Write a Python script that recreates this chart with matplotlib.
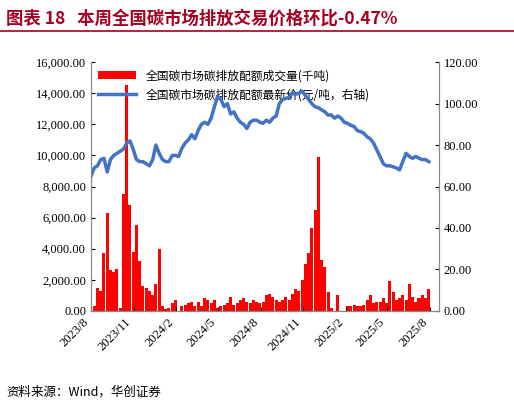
import pandas as pd
import matplotlib.pyplot as plt
import matplotlib.dates as mdates
from matplotlib.ticker import FuncFormatter

plt.rcParams['font.family'] = ['Liberation Serif', 'Noto Sans CJK SC']

# weekly volume (thousand tons) and weekly price (yuan/ton), from 2023-08-01
volume = [300, 300, 1500, 1300, 3700, 6300, 2600, 2500, 2700, 200,
          7500, 14500, 6800, 3800, 5500, 3200, 1600, 1500, 1300, 1000,
          1700, 4000, 300, 100, 200, 500, 700, 0, 300, 400,
          500, 600, 300, 600, 300, 800, 700, 500, 700, 200,
          300, 400, 500, 900, 400, 500, 700, 800, 600, 500,
          700, 600, 500, 600, 1000, 1100, 900, 700, 600, 700,
          900, 700, 1100, 1400, 1300, 2000, 3000, 3700, 5300, 6500,
          9900, 3300, 2800, 1200, 200, 0, 1000, 0, 0, 300,
          300, 400, 300, 300, 400, 700, 1000, 500, 600, 600,
          800, 500, 1900, 1200, 700, 800, 1000, 700, 1700, 900,
          600, 800, 1000, 800, 1400]
price = [65, 69, 70, 73, 73.6, 67, 73, 75, 76, 77,
         78, 81, 82, 78, 73, 72, 72, 71, 70, 73,
         80, 76, 73, 72, 72, 75, 75, 74.5, 78.5, 81,
         82.5, 85, 83, 87, 90, 91, 90, 93, 98.5, 103.5,
         102, 98.5, 100, 95, 96, 93, 91, 90, 88, 91,
         92, 92, 91, 90.5, 92, 91, 93, 94, 100, 102,
         102.5, 103, 105, 104.5, 105, 106, 104, 102, 100, 98.5,
         98, 97, 96, 94.5, 94.5, 93, 94, 93, 91, 90.5,
         89.5, 89, 87, 86.5, 85.7, 84, 83, 81, 77.7, 74.5,
         71, 70, 70, 69.5, 69, 68, 72, 76, 74.5, 73.6,
         74.5, 73.6, 73, 73, 72]
dates = pd.date_range('2023-08-01', periods=len(volume), freq='7D')

fig = plt.figure(figsize=(5.14, 4.09), dpi=100)
ax = fig.add_axes([0.177, 0.24, 0.677, 0.608])
ax2 = ax.twinx()

ax.bar(dates, volume, width=6.5, color='#FF0000', label='全国碳市场碳排放配额成交量(千吨)')
ax2.plot(dates, price, color='#4472C4', lw=2.5, label='全国碳市场碳排放配额最新价(元/吨，右轴)')

ax.set_ylim(0, 16000)
ax.set_yticks(range(0, 16001, 2000))
ax.yaxis.set_major_formatter(FuncFormatter(lambda v, p: f'{v:,.2f}'))
ax2.set_ylim(0, 120)
ax2.set_yticks(range(0, 121, 20))
ax2.yaxis.set_major_formatter(FuncFormatter(lambda v, p: f'{v:.2f}'))
ax.set_xlim(pd.Timestamp('2023-08-01'), pd.Timestamp('2025-08-20'))
ax.xaxis.set_major_locator(mdates.MonthLocator(bymonth=[2, 5, 8, 11]))
ax.xaxis.set_major_formatter(FuncFormatter(lambda v, p: f'{mdates.num2date(v).year}/{mdates.num2date(v).month}'))
for lab in ax.get_xticklabels():
    lab.set_rotation(45)
    lab.set_ha('right')
for a in (ax, ax2):
    a.tick_params(labelsize=9, direction='in', length=3)
    for s in a.spines.values():
        s.set_color('#888888')
    a.spines['top'].set_visible(False)

h1, l1 = ax.get_legend_handles_labels()
h2, l2 = ax2.get_legend_handles_labels()
ax.legend(h1 + h2, l1 + l2, loc='upper left', frameon=False,
          prop={'family': ['Noto Sans CJK SC'], 'size': 8.5}, handlelength=3.2,
          borderaxespad=0.2)

fig.text(0.012, 0.955, '图表 18   本周全国碳市场排放交易价格环比-0.47%', color='#A50021',
         fontsize=12.5, fontweight='bold', family=['Noto Sans CJK SC'], va='center')
fig.add_artist(plt.Line2D([0.0, 1.0], [0.925, 0.925], color='#A50021', lw=1.2))
fig.text(0.012, 0.04, '资料来源：Wind，华创证券', fontsize=9, style='italic',
         family=['Noto Sans CJK SC'], va='center')

fig.savefig('out.png', dpi=100)
